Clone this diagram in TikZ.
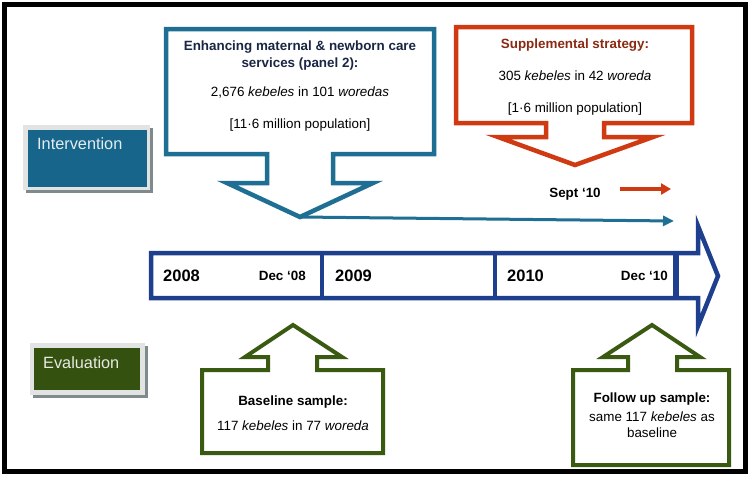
\documentclass[tikz,border=0pt]{standalone}
\usepackage{fontspec}
\setmainfont{Liberation Sans}
\usetikzlibrary{arrows.meta}
\definecolor{tealfill}{HTML}{17658A}
\definecolor{tealline}{HTML}{1F6E93}
\definecolor{redline}{HTML}{D03A12}
\definecolor{redtext}{HTML}{8A2A12}
\definecolor{navy}{HTML}{1E3F8E}
\definecolor{navytext}{HTML}{1A2744}
\definecolor{greenline}{HTML}{3A5A12}
\definecolor{greenfill}{HTML}{35510F}
\definecolor{shadowgray}{HTML}{7E8A8C}
\definecolor{framegray}{HTML}{E2E4E4}
\begin{document}
\begin{tikzpicture}[x=1pt,y=-1pt,
  txt/.style={inner sep=0pt,anchor=base,font=\fontsize{13.4}{16}\selectfont},
  bold/.style={txt,font=\fontsize{13.4}{16}\selectfont\bfseries},
  yearlbl/.style={inner sep=0pt,anchor=base west,font=\fontsize{16.5}{18}\selectfont\bfseries},
  declbl/.style={inner sep=0pt,anchor=base east,font=\fontsize{13.4}{16}\selectfont\bfseries},
  sidelbl/.style={inner sep=0pt,anchor=base west,font=\fontsize{16.3}{18}\selectfont},
  callout/.style={line width=4.5pt,fill=white,line join=miter},
  divider/.style={draw=navy,line width=4.5pt}
]
\useasboundingbox (0,0) rectangle (754,480);
\fill[white] (0,0) rectangle (754,480);
% outer frame
\draw[line width=5pt,black] (4.5,4.5) rectangle (745,471);

% Intervention label box
\fill[shadowgray] (26,128) rectangle (153,193);
\fill[framegray] (23,125) rectangle (150,190);
\fill[tealfill] (28,130) rectangle (147,187);
\node[sidelbl,text=white!88!tealfill] (intlbl) at (37,149) {Intervention};

% Evaluation label box
\fill[shadowgray] (33,346) rectangle (148,398);
\fill[framegray] (30,343) rectangle (145,395);
\fill[greenfill] (34,348) rectangle (140,390);
\node[sidelbl,text=white!88!greenfill] (evallbl) at (43,368) {Evaluation};

% Blue callout (panel 2)
\draw[callout,draw=tealline] (166,29) -- (434,29) -- (434,154) -- (333,154) -- (333,183)
  -- (373,183) -- (300,217) -- (227,183) -- (267,183) -- (267,154) -- (166,154) -- cycle;
\coordinate (bluetip) at (300,217);
\node[bold,text=navytext] (b1) at (300,50) {Enhancing maternal \& newborn care};
\node[bold,text=navytext] (b2) at (300,67) {services (panel 2):};
\node[txt] (b3) at (300,96) {2,676 \textit{kebeles} in 101 \textit{woredas}};
\node[txt] (b4) at (300,128) {[11·6 million population]};

% Red callout
\draw[callout,draw=redline] (456,27) -- (692,27) -- (692,123) -- (604,123) -- (604,137)
  -- (653,137) -- (575,165) -- (498,137) -- (546,137) -- (546,123) -- (456,123) -- cycle;
\node[bold,text=redtext] (r1) at (575,48) {Supplemental strategy:};
\node[txt] (r2) at (575,80) {305 \textit{kebeles} in 42 \textit{woreda}};
\node[txt] (r3) at (575,112) {[1·6 million population]};

% Sept '10 and arrows
\node[bold] (sept) at (575,197) {Sept ‘10};
\coordinate (redstart) at (620,189);
\coordinate (redend) at (671,189);
\draw[redline,line width=3.5pt,-{Triangle[length=10pt,width=11pt]}] (redstart) -- (redend);
\coordinate (blueend) at (674,221);
\draw[tealline,line width=3pt,-{Triangle[length=11pt,width=10pt]}] (bluetip) -- (blueend);

% Timeline arrow
\draw[navy,line width=4.5pt,fill=white,line join=miter] (151,253) -- (698,253) -- (698,226)
  -- (718,276) -- (698,326) -- (698,298) -- (151,298) -- cycle;
\draw[divider] (322,253) -- (322,298);
\draw[divider] (495,253) -- (495,298);
\draw[divider,line width=6.5pt] (676,253) -- (676,298);
\node[yearlbl] (y2008) at (163,281) {2008};
\node[declbl] (d08) at (306,280) {Dec ‘08};
\node[yearlbl] (y2009) at (335,281) {2009};
\node[yearlbl] (y2010) at (507,281) {2010};
\node[declbl] (d10) at (668,280) {Dec ‘10};

% Baseline callout
\draw[callout,line width=4pt,draw=greenline] (202,453) -- (202,370) -- (268,370) -- (268,357)
  -- (245,357) -- (293,325) -- (342,357) -- (317,357) -- (317,370) -- (383,370) -- (383,453) -- cycle;
\node[bold] (g1) at (293,405) {Baseline sample:};
\node[txt] (g2) at (293,430) {117 \textit{kebeles} in 77 \textit{woreda}};

% Follow up callout
\draw[callout,line width=4pt,draw=greenline] (573,465) -- (573,370) -- (628,370) -- (628,357)
  -- (603,357) -- (652,325) -- (700,357) -- (677,357) -- (677,370) -- (729,370) -- (729,465) -- cycle;
\node[bold] (f1) at (652,402) {Follow up sample:};
\node[txt] (f2) at (652,421) {same 117 \textit{kebeles} as};
\node[txt] (f3) at (652,437) {baseline};
\end{tikzpicture}
\end{document}
